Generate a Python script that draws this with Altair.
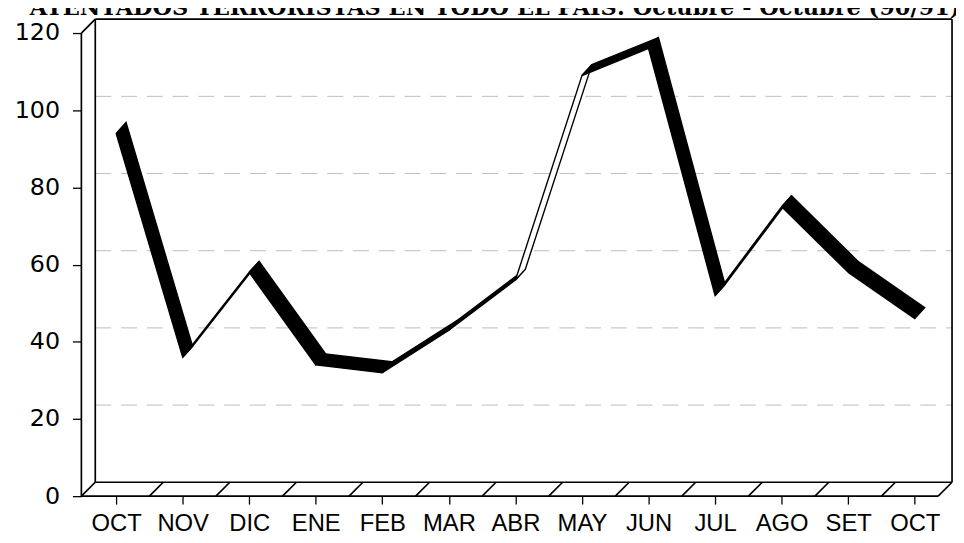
import altair as alt
import pandas as pd

# ---------------- data ----------------
MONTHS = ["OCT", "NOV", "DIC", "ENE", "FEB", "MAR", "ABR", "MAY", "JUN", "JUL", "AGO", "SET", "OCT"]
VALUES = [94, 36, 58, 34, 32, 43, 56, 109, 116, 52, 75, 58, 46]
Y_TICKS = [0, 20, 40, 60, 80, 100, 120]
GRID_VALUES = [20, 40, 60, 80, 100]
TITLE = "ATENTADOS TERRORISTAS EN TODO EL PAIS: Octubre - Octubre (90/91)"

# ---------------- geometry of the pseudo-3D box ----------------
W, H = 878, 481
X0, X1 = -0.522, 12.56
Y1 = 123.6
PX_X = W / (X1 - X0)
PX_Y = H / Y1
BOX_DX = 14 / PX_X
BOX_DY = 14 / PX_Y
RIB_DX_PX, RIB_DY_PX = 10, 11
RIB_DX = RIB_DX_PX / PX_X
RIB_DY = RIB_DY_PX / PX_Y
FRONT_RIGHT = X1 - BOX_DX

xs = alt.Scale(domain=[X0, X1], nice=False, zero=False)
ys = alt.Scale(domain=[0, Y1], nice=False, zero=False)

# ribbon polygons (one per segment)
rows = []
for i in range(len(VALUES) - 1):
    v1, v2 = VALUES[i], VALUES[i + 1]
    rise_px = (v2 - v1) * PX_Y
    cross = PX_X * RIB_DY_PX - rise_px * RIB_DX_PX
    col = "black" if cross > 0 else "white"
    pts = [(i, v1), (i + 1, v2), (i + 1 + RIB_DX, v2 + RIB_DY), (i + RIB_DX, v1 + RIB_DY), (i, v1)]
    for k, (px, py) in enumerate(pts):
        rows.append({"seg": f"s{i:02d}", "k": k, "x": px, "y": py, "fillc": col})
ribbon_df = pd.DataFrame(rows)

# box frame lines
frame = [
    (X0, 0, X0, 120),
    (X0 + BOX_DX, BOX_DY, X0 + BOX_DX, Y1),
    (X0, 120, X0 + BOX_DX, Y1),
    (X0 + BOX_DX, Y1, X1, Y1),
    (X1, BOX_DY, X1, Y1),
    (X0 + BOX_DX, BOX_DY, X1, BOX_DY),
    (X0, 0, FRONT_RIGHT, 0),
]
slant_pos = [X0] + [i + 0.5 for i in range(12)] + [FRONT_RIGHT]
for b in slant_pos:
    frame.append((b, 0, b + BOX_DX, BOX_DY))
frame_df = pd.DataFrame(frame, columns=["x", "y", "x2", "y2"])

grid_df = pd.DataFrame({"y": [g + BOX_DY for g in GRID_VALUES]})
grid_df["x"] = X0 + BOX_DX
grid_df["x2"] = X1

label_expr = "[" + ",".join(f"'{m}'" for m in MONTHS) + "][datum.value]"

x_axis = alt.Axis(values=list(range(len(MONTHS))), labelExpr=label_expr, title=None)
y_axis = alt.Axis(values=Y_TICKS, title=None)

grid_layer = alt.Chart(grid_df).mark_rule(color="#bdbdbd", strokeWidth=1, strokeDash=[16, 10]).encode(
    x=alt.X("x:Q", scale=xs, axis=x_axis), x2="x2",
    y=alt.Y("y:Q", scale=ys, axis=y_axis),
)

frame_layer = alt.Chart(frame_df).mark_rule(color="black", strokeWidth=1.7).encode(
    x=alt.X("x:Q", scale=xs, axis=x_axis), x2="x2",
    y=alt.Y("y:Q", scale=ys, axis=y_axis), y2="y2",
)

ribbon_layer = alt.Chart(ribbon_df).mark_line(strokeWidth=1.4, strokeJoin="miter").encode(
    x=alt.X("x:Q", scale=xs, axis=x_axis),
    y=alt.Y("y:Q", scale=ys, axis=y_axis),
    detail="seg:N",
    order=alt.Order("k:Q"),
    fill=alt.Fill("fillc:N", scale=None),
    stroke=alt.value("black"),
)

title_layer = alt.Chart(pd.DataFrame({"t": [TITLE]})).mark_text(
    font="DejaVu Serif", fontWeight="bold", fontSize=22.6, align="left",
    baseline="alphabetic", color="black"
).encode(text="t:N", x=alt.value(-52), y=alt.value(-4))

chart = alt.layer(grid_layer, frame_layer, ribbon_layer, title_layer).properties(
    width=W, height=H,
    autosize=alt.AutoSizeParams(type="none"),
    padding={"left": 74, "top": 9, "right": 4, "bottom": 45},
    background="white",
).configure_view(stroke=None).configure_axisX(
    domain=False, grid=False, tickSize=8, tickColor="black", tickWidth=1.3,
    labelFont="Liberation Sans", labelFontSize=24, labelColor="black",
    labelPadding=8, labelFlush=False, labelOverlap=False,
).configure_axisY(
    domain=False, grid=False, tickSize=9, tickColor="black", tickWidth=1.3,
    labelFont="DejaVu Sans", labelFontSize=24, labelColor="black",
    labelPadding=13, labelFlush=False, labelOverlap=False,
)

chart.save("out.html", embed_options={"renderer": "svg", "actions": False})
